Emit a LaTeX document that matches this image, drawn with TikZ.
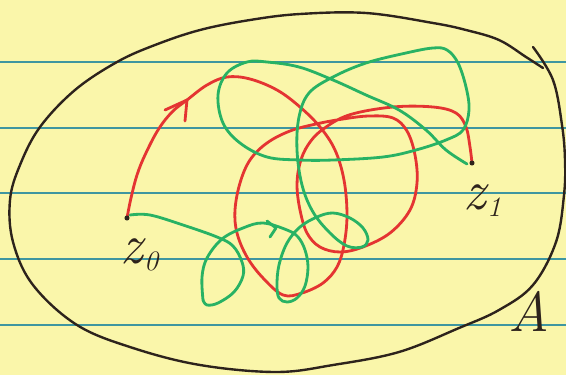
\documentclass[tikz,border=0pt]{standalone}
\definecolor{paper}{RGB}{250,246,170}
\definecolor{ruleblue}{RGB}{62,150,160}
\definecolor{penred}{RGB}{228,52,50}
\definecolor{pengreen}{RGB}{40,178,100}
\definecolor{penblack}{RGB}{45,35,28}
\newcommand{\sublabel}[2]{#1\kern1pt\raisebox{-5pt}{\fontsize{20}{20}\selectfont#2}}

\begin{document}
\begin{tikzpicture}[x=0.025cm,y=-0.025cm,line cap=round,line join=round,
  ruleline/.style={ruleblue,line width=1.6pt},
  redpen/.style={penred,line width=2pt},
  greenpen/.style={pengreen,line width=2pt},
  inkpen/.style={penblack,line width=1.7pt},
  hand/.style={penblack,inner sep=0pt,anchor=base west,font=\fontsize{40}{40}\selectfont\itshape}]
\fill[paper] (0,0) rectangle (566,375);
\useasboundingbox (0,0) rectangle (566,375);
\foreach \y in {62,128,193,259,325} \draw[ruleline] (0,\y)--(566,\y);
% the set A
\draw[inkpen] plot[smooth,tension=.6] coordinates{(543,68) (526,57) (499,40) (466,30) (433,23) (366,13) (300,14) (250,20) (200,30) (155,45) (117,62) (75,90) (40,127) (20,165) (10,200) (13,242) (33,285) (77,325) (133,348) (200,365) (276,372) (333,365) (399,352) (459,328) (499,310) (533,285) (556,242) (564,195) (565,160) (562,125) (553,80) (533,47)};
\coordinate (p0) at (127,218); \coordinate (p1) at (472,163);
% red path
\draw[redpen] plot[smooth,tension=.6] coordinates{(p0) (131,198) (137,175) (145,155) (158,130) (172,112) (187,100) (207,85) (227,77) (250,79) (277,90) (300,107) (320,127) (335,150) (344,180) (347,215) (344,245) (337,267) (323,283) (302,293) (283,295) (263,278) (247,257) (237,233) (235,210) (240,183) (250,160) (267,143) (290,131) (316,124) (343,119) (369,116) (393,118) (407,131) (415,155) (417,183) (410,210) (390,233) (363,247) (340,252) (320,247) (307,233) (300,210) (297,185) (300,163) (308,145) (322,130) (349,115) (393,107) (433,107) (456,113) (466,127) (470,147) (p1)};
\draw[redpen] (165,110)--(187,100)--(185,121);
% green path
\draw[greenpen] plot[smooth,tension=.6] coordinates{(130,215) (150,215) (183,225) (217,237) (233,246) (242,262) (243,276) (234,292) (218,303) (207,305) (203,300)};
\draw[greenpen] plot[smooth,tension=.6] coordinates{(203,300) (202,277) (207,258) (222,239) (243,228) (263,223) (287,230) (298,237) (305,250) (308,267) (305,286) (297,298) (287,302) (279,298) (277,285) (279,265) (287,243) (300,227) (317,217) (333,213) (350,218) (363,228) (368,240) (362,247) (347,246) (330,233) (313,212) (302,185) (297,150) (299,117) (309,93) (333,77) (366,63) (406,53) (433,48) (447,50) (458,63) (466,87) (469,110) (463,130) (446,140) (416,150) (383,157) (333,160) (300,160) (267,157) (240,143) (223,123) (218,95) (227,73) (247,62) (267,62) (299,67) (333,80) (366,95) (399,110) (426,130) (446,150) (467,164)};
\draw[greenpen] (267,221)--(276,228)--(270,237);
\fill[penblack] (p0) circle (1.8pt); \fill[penblack] (p1) circle (1.8pt);
\node[hand] (z0) at (120,263) {\sublabel{z}{0}};
\node[hand] (z1) at (463,209) {\sublabel{z}{1}};
\node[hand] (A) at (508,331) {A};
\end{tikzpicture}
\end{document}
